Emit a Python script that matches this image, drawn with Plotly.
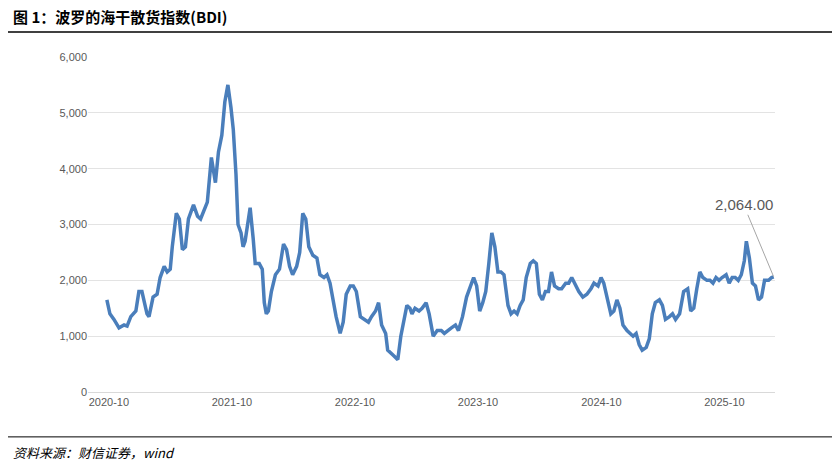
import plotly.graph_objects as go

dates = [
    "2020-09-25", "2020-10-04", "2020-10-16", "2020-10-31", "2020-11-15", "2020-11-24", "2020-12-05", "2020-12-20", "2020-12-29",
    "2021-01-07", "2021-01-22", "2021-01-28", "2021-02-09", "2021-02-21", "2021-03-02", "2021-03-14", "2021-03-23", "2021-04-01",
    "2021-04-07", "2021-04-19", "2021-04-28", "2021-05-07", "2021-05-16", "2021-05-25", "2021-06-09", "2021-06-21", "2021-06-30",
    "2021-07-11", "2021-07-20", "2021-08-01", "2021-08-13", "2021-08-22", "2021-09-01", "2021-09-10", "2021-09-19", "2021-09-28",
    "2021-10-05", "2021-10-13", "2021-10-19", "2021-10-28", "2021-11-03", "2021-11-09", "2021-11-18", "2021-11-24", "2021-12-03",
    "2021-12-09", "2021-12-21", "2021-12-30", "2022-01-05", "2022-01-11", "2022-01-17", "2022-01-26", "2022-02-07", "2022-02-19",
    "2022-03-03", "2022-03-12", "2022-03-21", "2022-03-30", "2022-04-11", "2022-04-20", "2022-04-29", "2022-05-08", "2022-05-17",
    "2022-05-29", "2022-06-10", "2022-06-19", "2022-07-01", "2022-07-10", "2022-07-19", "2022-07-28", "2022-08-06", "2022-08-18",
    "2022-08-27", "2022-09-05", "2022-09-17", "2022-09-26", "2022-10-05", "2022-10-17", "2022-10-29", "2022-11-10", "2022-11-19",
    "2022-12-01", "2022-12-10", "2022-12-19", "2022-12-31", "2023-01-06", "2023-01-24", "2023-02-05", "2023-02-14", "2023-02-23",
    "2023-03-04", "2023-03-13", "2023-03-19", "2023-03-28", "2023-04-09", "2023-04-18", "2023-04-30", "2023-05-09", "2023-05-21",
    "2023-06-02", "2023-06-14", "2023-06-23", "2023-07-02", "2023-07-14", "2023-07-26", "2023-08-04", "2023-08-16", "2023-08-28",
    "2023-09-09", "2023-09-18", "2023-09-27", "2023-10-06", "2023-10-15", "2023-10-24", "2023-11-02", "2023-11-11", "2023-11-20",
    "2023-11-29", "2023-12-08", "2023-12-17", "2023-12-29", "2024-01-07", "2024-01-16", "2024-01-25", "2024-02-03", "2024-02-12",
    "2024-02-21", "2024-03-04", "2024-03-13", "2024-03-22", "2024-03-31", "2024-04-09", "2024-04-18", "2024-04-27", "2024-05-06",
    "2024-05-15", "2024-05-27", "2024-06-05", "2024-06-17", "2024-06-26", "2024-07-05", "2024-07-14", "2024-07-26", "2024-08-07",
    "2024-08-19", "2024-08-31", "2024-09-09", "2024-09-21", "2024-09-30", "2024-10-08", "2024-10-17", "2024-10-29", "2024-11-07",
    "2024-11-16", "2024-11-25", "2024-12-04", "2024-12-16", "2024-12-25", "2025-01-03", "2025-01-12", "2025-01-21", "2025-01-30",
    "2025-02-11", "2025-02-20", "2025-03-01", "2025-03-10", "2025-03-22", "2025-03-31", "2025-04-09", "2025-04-21", "2025-04-30",
    "2025-05-09", "2025-05-21", "2025-06-02", "2025-06-14", "2025-06-23", "2025-07-02", "2025-07-11", "2025-07-20", "2025-07-29",
    "2025-08-10", "2025-08-19", "2025-08-28", "2025-09-06", "2025-09-15", "2025-09-24", "2025-10-06", "2025-10-15", "2025-10-24",
    "2025-11-02", "2025-11-11", "2025-11-20", "2025-11-29", "2025-12-05", "2025-12-14", "2025-12-23", "2026-01-01", "2026-01-10",
    "2026-01-19", "2026-01-28", "2026-02-09", "2026-02-18", "2026-02-24",
]
bdi = [
    1650, 1400, 1300, 1150, 1200, 1180, 1350, 1450, 1800,
    1800, 1400, 1350, 1700, 1750, 2050, 2250, 2150, 2200,
    2600, 3200, 3100, 2550, 2600, 3100, 3350, 3150, 3100,
    3250, 3400, 4200, 3750, 4300, 4600, 5200, 5500, 5100,
    4700, 3900, 3000, 2850, 2600, 2700, 3100, 3300, 2750,
    2300, 2300, 2200, 1600, 1400, 1450, 1800, 2100, 2200,
    2650, 2550, 2250, 2100, 2250, 2500, 3200, 3100, 2600,
    2450, 2400, 2100, 2050, 2100, 1950, 1600, 1350, 1050,
    1250, 1750, 1900, 1900, 1800, 1350, 1300, 1250, 1350,
    1450, 1600, 1200, 1050, 750, 650, 580, 1000, 1300,
    1550, 1500, 1400, 1500, 1450, 1500, 1600, 1400, 1000,
    1100, 1100, 1050, 1100, 1150, 1200, 1100, 1350, 1700,
    1900, 2050, 1900, 1450, 1600, 1800, 2300, 2850, 2600,
    2150, 2150, 2100, 1550, 1400, 1450, 1400, 1550, 1650,
    2050, 2300, 2350, 2300, 1750, 1650, 1800, 1800, 2150,
    1900, 1850, 1850, 1950, 1950, 2050, 1950, 1800, 1700,
    1750, 1850, 1950, 1900, 2050, 1950, 1700, 1400, 1450,
    1650, 1500, 1200, 1100, 1050, 1000, 1050, 850, 750,
    800, 950, 1400, 1600, 1650, 1550, 1300, 1350, 1400,
    1300, 1400, 1800, 1850, 1450, 1500, 1850, 2150, 2050,
    2000, 2000, 1950, 2050, 2000, 2050, 2100, 1950, 2050,
    2050, 2000, 2100, 2350, 2700, 2400, 1950, 1900, 1650,
    1700, 2000, 2000, 2050, 2064,
]
tick_dates = ["2020-10-01", "2021-10-01", "2022-10-01", "2023-10-01", "2024-10-01", "2025-10-01"]

fig = go.Figure()
fig.add_trace(go.Scatter(
    x=dates, y=bdi, mode="lines",
    line=dict(color="#4a7ebb", width=3.5),
    showlegend=False,
))

fig.add_annotation(
    x=dates[-1], y=bdi[-1], xref="x", yref="y",
    text=f"{bdi[-1]:,.2f}", showarrow=True, arrowhead=0, arrowwidth=1,
    arrowcolor="#a6a6a6", ax=-30, ay=-72,
    font=dict(family="Liberation Sans, Arial", size=15, color="#595959"),
)

fig.update_layout(
    width=840, height=466,
    margin=dict(l=80, r=73, t=49, b=82),
    paper_bgcolor="white", plot_bgcolor="white",
    font=dict(family="Liberation Sans, Arial", size=11, color="#595959"),
    xaxis=dict(
        range=["2020-07-31", "2026-02-28"],
        tickvals=tick_dates, tickformat="%Y-%m",
        showgrid=False, showline=True, linecolor="#d9d9d9",
        ticks="", zeroline=False,
    ),
    yaxis=dict(
        range=[0, 6000], dtick=1000, tickformat=",",
        showgrid=True, gridcolor="#e3e3e3", zeroline=False,
        ticks="", showline=False,
    ),
    shapes=[
        dict(type="line", xref="paper", yref="paper", x0=-0.121, x1=1.087,
             y0=1.075, y1=1.075, line=dict(color="black", width=1.5)),
        dict(type="line", xref="paper", yref="paper", x0=-0.121, x1=1.087,
             y0=-0.134, y1=-0.134, line=dict(color="black", width=1)),
    ],
)
fig.add_annotation(
    xref="paper", yref="paper", x=-0.112, y=1.085, xanchor="left", yanchor="bottom",
    text="<b>图 1：波罗的海干散货指数(BDI)</b>", showarrow=False,
    font=dict(family="Noto Sans CJK SC", size=15, color="black"),
)
fig.add_annotation(
    xref="paper", yref="paper", x=-0.112, y=-0.145, xanchor="left", yanchor="top",
    text="<i>资料来源：财信证券，wind</i>", showarrow=False,
    font=dict(family="Noto Sans CJK SC", size=13, color="black"),
)

fig.write_html("out.html")
